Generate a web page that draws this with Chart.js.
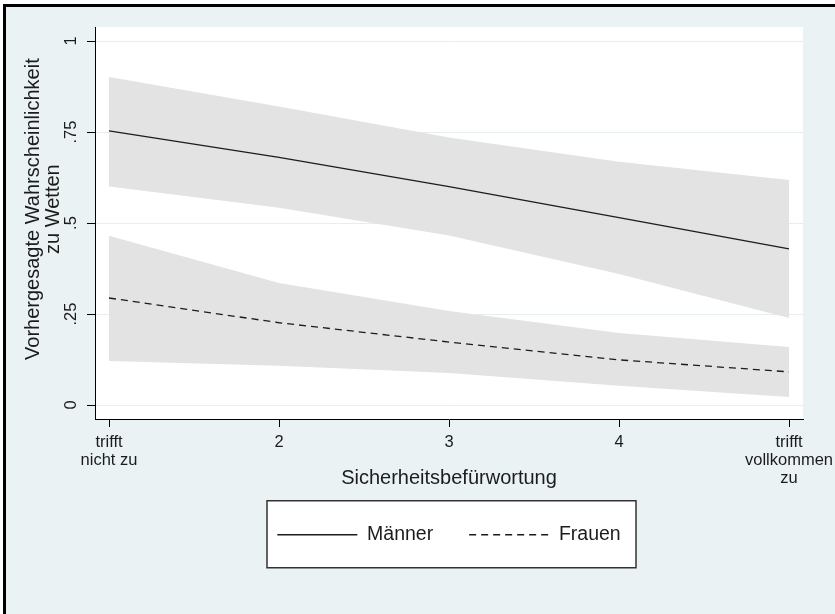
<!DOCTYPE html>
<html>
<head>
<meta charset="utf-8">
<script src="https://cdn.jsdelivr.net/npm/chart.js@4.4.1/dist/chart.umd.min.js"></script>
<style>
  html, body { margin: 0; padding: 0; background: #ffffff; }
  canvas { display: block; }
</style>
</head>
<body>
<canvas id="chart" width="835" height="614"></canvas>
<script>
// Sicherheitsbefürwortung (1 = trifft nicht zu ... 5 = trifft vollkommen zu)
const xValues = [1, 2, 3, 4, 5];
const xTickLabels = [["trifft", "nicht zu"], "2", "3", "4", ["trifft", "vollkommen", "zu"]];

// Vorhergesagte Wahrscheinlichkeit mit Konfidenzband
const maennerPred  = [0.753, 0.680, 0.600, 0.515, 0.429];
const maennerUpper = [0.901, 0.820, 0.735, 0.668, 0.618];
const maennerLower = [0.600, 0.542, 0.466, 0.360, 0.239];

const frauenPred  = [0.294, 0.226, 0.173, 0.124, 0.091];
const frauenUpper = [0.465, 0.335, 0.258, 0.198, 0.159];
const frauenLower = [0.121, 0.108, 0.088, 0.053, 0.022];

const yTicks = [0, 0.25, 0.5, 0.75, 1];
const yTickLabels = ["0", ".25", ".5", ".75", "1"];

const seriesNames = ["Männer", "Frauen"];

const BG = '#EAF2F3';
const BAND = '#E3E3E3';
const INK = '#1c1c1c';
const FONT = "'Liberation Sans', Arial, sans-serif";

const pts = arr => xValues.map((x, i) => ({ x, y: arr[i] }));

// Graph region, plot region and framed legend box
const backdrop = {
  id: 'backdrop',
  beforeDraw(chart) {
    const { ctx, width, height, chartArea, legend } = chart;
    ctx.save();
    ctx.fillStyle = '#ffffff';
    ctx.fillRect(0, 0, width, height);
    ctx.fillStyle = '#000000';
    ctx.fillRect(3, 4, width - 3, height - 4);
    ctx.fillStyle = BG;
    ctx.fillRect(6, 7, width - 6, height - 7);
    ctx.fillStyle = '#ffffff';
    ctx.fillRect(chartArea.left, chartArea.top, chartArea.right - chartArea.left, chartArea.bottom - chartArea.top);
    if (legend) {
      const pad = legend.options.labels.padding;
      const cy = legend.top + pad + legend.options.labels.font.size / 2;
      const cx = (chartArea.left + chartArea.right) / 2 + 2.5;
      const bw = 369, top = cy - 34, bh = 67;
      ctx.fillStyle = '#ffffff';
      ctx.fillRect(cx - bw / 2, top, bw, bh);
      ctx.strokeStyle = '#333333';
      ctx.lineWidth = 1.5;
      ctx.strokeRect(cx - bw / 2, top, bw, bh);
    }
    ctx.restore();
  }
};

const lineStyle = { pointRadius: 0, tension: 0, fill: false, borderColor: INK, borderWidth: 1.3 };
const bandStyle = { pointRadius: 0, tension: 0, borderColor: 'rgba(0,0,0,0)', borderWidth: 0, backgroundColor: BAND };

new Chart(document.getElementById('chart'), {
  type: 'line',
  data: {
    datasets: [
      { ...lineStyle, label: seriesNames[0], data: pts(maennerPred) },
      { ...lineStyle, label: seriesNames[1], data: pts(frauenPred), borderDash: [7, 5] },
      { ...bandStyle, label: 'KI ' + seriesNames[0], data: pts(maennerUpper), fill: '+1' },
      { ...bandStyle, label: 'KI ' + seriesNames[0] + ' unten', data: pts(maennerLower), fill: false },
      { ...bandStyle, label: 'KI ' + seriesNames[1], data: pts(frauenUpper), fill: '+1' },
      { ...bandStyle, label: 'KI ' + seriesNames[1] + ' unten', data: pts(frauenLower), fill: false }
    ]
  },
  options: {
    responsive: false,
    animation: false,
    devicePixelRatio: 1,
    events: [],
    layout: { padding: { left: 0, top: 27, right: 32, bottom: 59.5 } },
    font: { family: FONT },
    scales: {
      x: {
        type: 'linear',
        min: 1 - 14 / 170,
        max: 5 + 14 / 170,
        afterBuildTicks: s => { s.ticks = xValues.map(v => ({ value: v })); },
        afterFit: s => { s.height = 70; s.paddingLeft = 0; s.paddingRight = 0; },
        border: { display: true, color: '#000000', width: 1 },
        grid: { drawOnChartArea: false, drawTicks: true, tickLength: 8, tickColor: '#000000', tickWidth: 1 },
        ticks: {
          minRotation: 0, maxRotation: 0, autoSkip: false, padding: 6,
          color: INK,
          font: { family: FONT, size: 16.5, lineHeight: 1.1 },
          callback: v => xTickLabels[xValues.indexOf(v)]
        },
        title: {
          display: true,
          text: 'Sicherheitsbefürwortung',
          color: INK,
          font: { family: FONT, size: 20, lineHeight: 1.0 },
          padding: { top: 0, bottom: 1 }
        }
      },
      y: {
        type: 'linear',
        min: -14 / 364,
        max: 1 + 14 / 364,
        afterBuildTicks: s => { s.ticks = yTicks.map(v => ({ value: v })); },
        afterFit: s => { s.width = 95; s.paddingTop = 0; s.paddingBottom = 0; },
        border: { display: true, color: '#000000', width: 1 },
        grid: { drawOnChartArea: true, color: '#E6EEF1', lineWidth: 1, drawTicks: true, tickLength: 8, tickColor: '#000000', tickWidth: 1 },
        ticks: {
          minRotation: 90, maxRotation: 90, crossAlign: 'center', padding: 4,
          color: INK,
          font: { family: FONT, size: 16.5 },
          callback: v => yTickLabels[yTicks.indexOf(v)]
        },
        title: {
          display: true,
          text: ['     Vorhergesagte Wahrscheinlichkeit', '     zu Wetten'],
          color: INK,
          font: { family: FONT, size: 20, lineHeight: 1.0 },
          padding: { top: 23, bottom: 0 }
        }
      }
    },
    plugins: {
      tooltip: { enabled: false },
      legend: {
        display: true,
        position: 'bottom',
        fullSize: false,
        labels: {
          filter: item => item.datasetIndex < 2,
          generateLabels: chart => Chart.defaults.plugins.legend.labels.generateLabels(chart).map(item => {
            const ds = chart.data.datasets[item.datasetIndex];
            return { ...item, lineDash: ds.borderDash || [], lineWidth: ds.borderWidth, strokeStyle: ds.borderColor };
          }),
          usePointStyle: true,
          pointStyle: 'line',
          pointStyleWidth: 80,
          padding: 36,
          color: INK,
          font: { family: FONT, size: 19.5 }
        }
      }
    }
  },
  plugins: [backdrop]
});
</script>
</body>
</html>
